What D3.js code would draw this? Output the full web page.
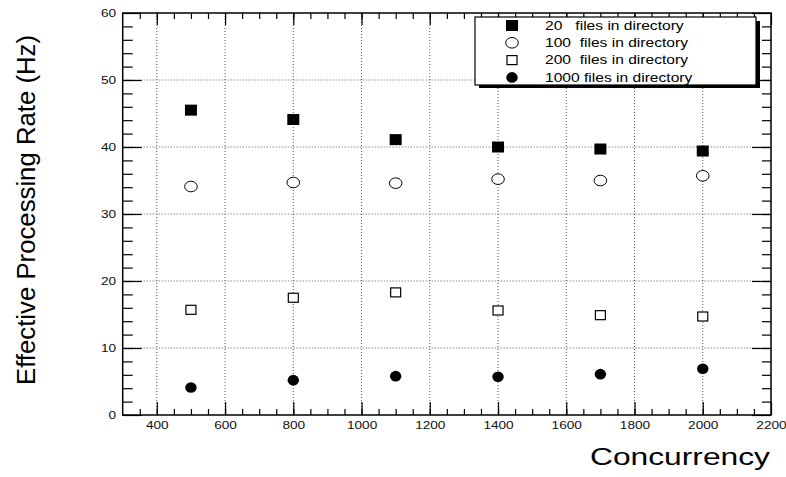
<!DOCTYPE html>
<html>
<head>
<meta charset="utf-8">
<script src="https://cdn.jsdelivr.net/npm/d3@7"></script>
<style>
  body { margin: 0; background: #fff; }
  svg { font-family: "Liberation Sans", Arial, sans-serif; }
  .tick text { font-size: 10.5px; fill: #111; }
</style>
</head>
<body>
<div class="main"></div>
<script>
const w = 786, h = 477;

// data
const concurrency = [500, 800, 1100, 1400, 1700, 2000];
const rate20 = [45.5, 44.1, 41.1, 40.0, 39.7, 39.4];
const rate100 = [34.1, 34.7, 34.6, 35.2, 35.0, 35.7];
const rate200 = [15.7, 17.5, 18.3, 15.6, 14.9, 14.7];
const rate1000 = [4.1, 5.2, 5.8, 5.7, 6.1, 6.9];
const seriesNames = ['20   files in directory', '100  files in directory', '200  files in directory', '1000 files in directory'];
const xMajor = [400, 600, 800, 1000, 1200, 1400, 1600, 1800, 2000, 2200];
const yMajor = [0, 10, 20, 30, 40, 50, 60];

const padL = 122.7, padR = 771, padT = 13, padB = 415;
const stretch = 1.3; // text in the picture is wide

const svg = d3.select('.main')
  .append('svg')
  .attr('width', w)
  .attr('height', h)

const x = d3.scaleLinear().domain([300, 2200]).range([padL, padR]);
const y = d3.scaleLinear().domain([0, 60]).range([padB, padT]);

// grid
const grid = svg.append('g').attr('class', 'grid')
grid.selectAll('line.vx')
  .data(xMajor.filter(v => v < 2200))
  .enter().append('line')
  .attr('x1', d => x(d)).attr('x2', d => x(d))
  .attr('y1', padT).attr('y2', padB)
  .attr('stroke', '#555').attr('stroke-width', 1)
  .attr('stroke-dasharray', '1,2')
grid.selectAll('line.hy')
  .data(yMajor.filter(v => v > 0 && v < 60))
  .enter().append('line')
  .attr('x1', padL).attr('x2', padR)
  .attr('y1', d => y(d)).attr('y2', d => y(d))
  .attr('stroke', '#555').attr('stroke-width', 1)
  .attr('stroke-dasharray', '1,2')

const xMinor = d3.range(350, 2200, 50);
const yMinor = d3.range(2, 60, 2);

function styleAxis(g) {
  g.select('.domain').remove();
  g.selectAll('line').attr('stroke', '#000').attr('stroke-width', 1.2);
  g.selectAll('text').attr('transform', `scale(${stretch},1)`);
}

// bottom
svg.append('g').attr('transform', `translate(0,${padB})`)
  .call(d3.axisBottom(x).tickValues(xMinor).tickSize(-6).tickFormat(''))
  .call(styleAxis)
svg.append('g').attr('transform', `translate(0,${padB})`)
  .call(d3.axisBottom(x).tickValues(xMajor).tickSize(-13).tickPadding(7).tickFormat(d3.format('d')))
  .call(styleAxis)
// top
svg.append('g').attr('transform', `translate(0,${padT})`)
  .call(d3.axisTop(x).tickValues(xMinor).tickSize(-6).tickFormat(''))
  .call(styleAxis)
svg.append('g').attr('transform', `translate(0,${padT})`)
  .call(d3.axisTop(x).tickValues(xMajor).tickSize(-12).tickFormat(''))
  .call(styleAxis)
// left
svg.append('g').attr('transform', `translate(${padL},0)`)
  .call(d3.axisLeft(y).tickValues(yMinor).tickSize(-10).tickFormat(''))
  .call(styleAxis)
svg.append('g').attr('transform', `translate(${padL},0)`)
  .call(d3.axisLeft(y).tickValues(yMajor).tickSize(-19).tickPadding(5).tickFormat(d3.format('d')))
  .call(styleAxis)
// right
svg.append('g').attr('transform', `translate(${padR},0)`)
  .call(d3.axisRight(y).tickValues(yMinor).tickSize(-9).tickFormat(''))
  .call(styleAxis)
svg.append('g').attr('transform', `translate(${padR},0)`)
  .call(d3.axisRight(y).tickValues(yMajor).tickSize(-19).tickFormat(''))
  .call(styleAxis)

// frame
svg.append('rect')
  .attr('x', padL).attr('y', padT)
  .attr('width', padR - padL).attr('height', padB - padT)
  .attr('fill', 'none').attr('stroke', '#000').attr('stroke-width', 1.5)

// marker drawing
function marker(g, kind) {
  if (kind === 0) {
    g.append('rect').attr('x', -6).attr('y', -5.5).attr('width', 12).attr('height', 11).attr('fill', '#000')
  } else if (kind === 1) {
    g.append('ellipse').attr('rx', 6.3).attr('ry', 5.3).attr('fill', '#fff').attr('stroke', '#000').attr('stroke-width', 1)
  } else if (kind === 2) {
    g.append('rect').attr('x', -5).attr('y', -4.5).attr('width', 10).attr('height', 9).attr('fill', '#fff').attr('stroke', '#000').attr('stroke-width', 1.2)
  } else {
    g.append('ellipse').attr('rx', 5.7).attr('ry', 5.3).attr('fill', '#000')
  }
}

const allSeries = [rate20, rate100, rate200, rate1000];
allSeries.forEach((vals, k) => {
  svg.append('g').selectAll('g')
    .data(vals)
    .enter().append('g')
    .attr('transform', (d, i) => `translate(${x(concurrency[i])},${y(d)})`)
    .each(function () { marker(d3.select(this), k) })
})

// legend
const lg = svg.append('g').attr('class', 'legend')
lg.append('rect').attr('x', 479).attr('y', 21).attr('width', 281).attr('height', 67).attr('fill', '#000')
lg.append('rect').attr('x', 475).attr('y', 17).attr('width', 281).attr('height', 68)
  .attr('fill', '#fff').attr('stroke', '#000').attr('stroke-width', 1.2)
seriesNames.forEach((name, k) => {
  const row = lg.append('g').attr('transform', `translate(512,${25.5 + k * 17.3})`)
  marker(row, k)
  row.append('text')
    .attr('transform', `translate(33,0) scale(${stretch},1)`)
    .attr('dy', '0.36em')
    .attr('font-size', 12)
    .style('white-space', 'pre')
    .text(name)
})

// titles
svg.append('text')
  .attr('transform', `translate(35,210) rotate(-90)`)
  .attr('text-anchor', 'middle')
  .attr('font-size', 25)
  .attr('textLength', 350)
  .attr('lengthAdjust', 'spacingAndGlyphs')
  .text('Effective Processing Rate (Hz)')

svg.append('text')
  .attr('x', 770).attr('y', 465)
  .attr('text-anchor', 'end')
  .attr('font-size', 24)
  .attr('textLength', 180)
  .attr('lengthAdjust', 'spacingAndGlyphs')
  .text('Concurrency')
</script>
</body>
</html>
